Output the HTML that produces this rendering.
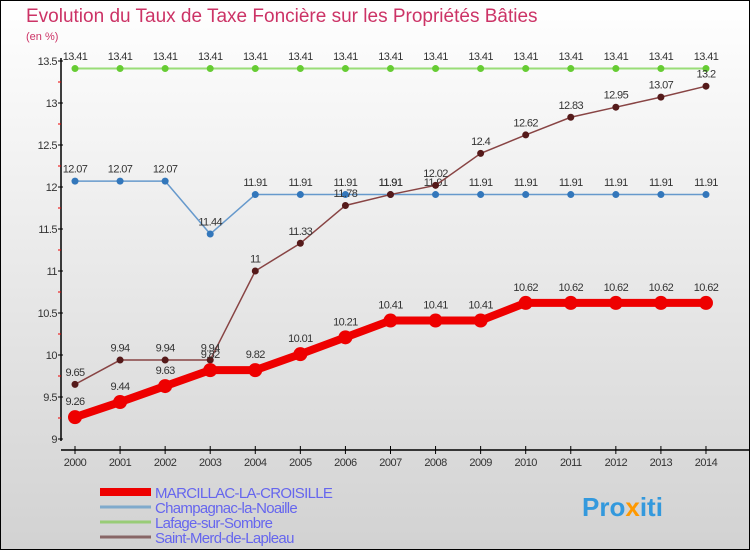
<!DOCTYPE html>
<html><head><meta charset="utf-8"><style>
body{margin:0;width:750px;height:550px;overflow:hidden}
svg{display:block;font-family:"Liberation Sans",sans-serif}
</style></head><body>
<svg id="c" width="750" height="550">
<defs><linearGradient id="bg" x1="0" y1="0" x2="0" y2="1"><stop offset="0" stop-color="#ffffff"/><stop offset="1" stop-color="#d2d2d2"/></linearGradient></defs>
<rect x="0.5" y="0.5" width="749" height="549" fill="url(#bg)" stroke="#000"/>
<text x="26" y="22" font-size="19" fill="#cc3366">Evolution du Taux de Taxe Foncière sur les Propriétés Bâties</text>
<text x="26" y="40" font-size="11" fill="#cc3366">(en %)</text>
<g id="axes"></g><g id="series"></g><g id="legend"></g>
</svg>
<script>
const years=[2000,2001,2002,2003,2004,2005,2006,2007,2008,2009,2010,2011,2012,2013,2014];
const marcillac=[9.26,9.44,9.63,9.82,9.82,10.01,10.21,10.41,10.41,10.41,10.62,10.62,10.62,10.62,10.62];
const champagnac=[12.07,12.07,12.07,11.44,11.91,11.91,11.91,11.91,11.91,11.91,11.91,11.91,11.91,11.91,11.91];
const lafage=[13.41,13.41,13.41,13.41,13.41,13.41,13.41,13.41,13.41,13.41,13.41,13.41,13.41,13.41,13.41];
const saintMerd=[9.65,9.94,9.94,9.94,11,11.33,11.78,11.91,12.02,12.4,12.62,12.83,12.95,13.07,13.2];
const yTicks=[9,9.5,10,10.5,11,11.5,12,12.5,13,13.5];
const seriesNames=["MARCILLAC-LA-CROISILLE","Champagnac-la-Noaille","Lafage-sur-Sombre","Saint-Merd-de-Lapleau"];
const NS="http://www.w3.org/2000/svg";
const X=i=>75+i*45.07, Y=v=>439-(v-9)*84;
function mk(t,a,p){const e=document.createElementNS(NS,t);for(const k in a)e.setAttribute(k,a[k]);p.appendChild(e);return e;}
const ax=document.getElementById('axes');
let l=mk('line',{x1:61,y1:58,x2:61,y2:441,stroke:'#000','stroke-width':1.5},ax);


l=mk('line',{x1:61,y1:450,x2:750,y2:450,stroke:'#000','stroke-width':1.5},ax);


const maxTick=yTicks[yTicks.length-1];
yTicks.forEach(v=>{const y=Y(v);
 mk('line',{x1:58,y1:y,x2:63,y2:y,stroke:'#000'},ax);
 if(v<maxTick) mk('line',{x1:58,y1:Y(v+0.25),x2:61,y2:Y(v+0.25),stroke:'#e00'},ax);
 const t=mk('text',{x:57,y:y+4,'font-size':11,fill:'#333','text-anchor':'end','letter-spacing':'-0.5'},ax);t.textContent=v;
 
 });
years.forEach((yr,i)=>{const x=X(i);
 mk('line',{x1:x,y1:446,x2:x,y2:454,stroke:'#000'},ax);
 const t=mk('text',{x:x,y:466,'font-size':11,fill:'#333','text-anchor':'middle','letter-spacing':'-0.5'},ax);t.textContent=yr;
 
 });
const sg=document.getElementById('series');
function draw(data,name,color,dot,w,r){
 const g=mk('g',{},sg);
 
 
 mk('polyline',{points:data.map((v,i)=>X(i)+','+Y(v)).join(' '),fill:'none',stroke:color,'stroke-width':w},g);
 data.forEach((v,i)=>{const c=mk('circle',{cx:X(i),cy:Y(v),r:r,fill:dot},g);
  
  
  const t=mk('text',{x:X(i),y:Y(v)-(r+5),'font-size':11,fill:'#333','text-anchor':'middle','letter-spacing':'-0.6'},g);t.textContent=v;
  
  });
}
draw(lafage,'series-lafage','#99dd77','#66cc33',2,3.5);
draw(champagnac,'series-champagnac','#6699cc','#3377bb',1.5,3.5);
draw(saintMerd,'series-saint-merd','#884444','#551a1a',1.5,3.5);
draw(marcillac,'series-marcillac','#ee0000','#ee0000',8,7);
const lg=document.getElementById('legend');
const lc=['#ee0000','#7faacc','#99cc77','#886666'],lw=[8,3,3,3];
seriesNames.forEach((n,i)=>{const y=492+i*15;
 const g=mk('g',{},lg);
 
 
 mk('line',{x1:100,y1:y,x2:151,y2:y,stroke:lc[i],'stroke-width':lw[i]},g);
 const t=mk('text',{x:155,y:y+6,'font-size':15,fill:'#6666ee','letter-spacing':'-0.7'},g);t.textContent=n;});
const lo=mk('text',{x:582,y:516,'font-size':26,'font-weight':'bold',fill:'#3399dd'},lg);
lo.innerHTML='Pro<tspan fill="#ff9900">x</tspan>iti';


</script>
</body></html>
